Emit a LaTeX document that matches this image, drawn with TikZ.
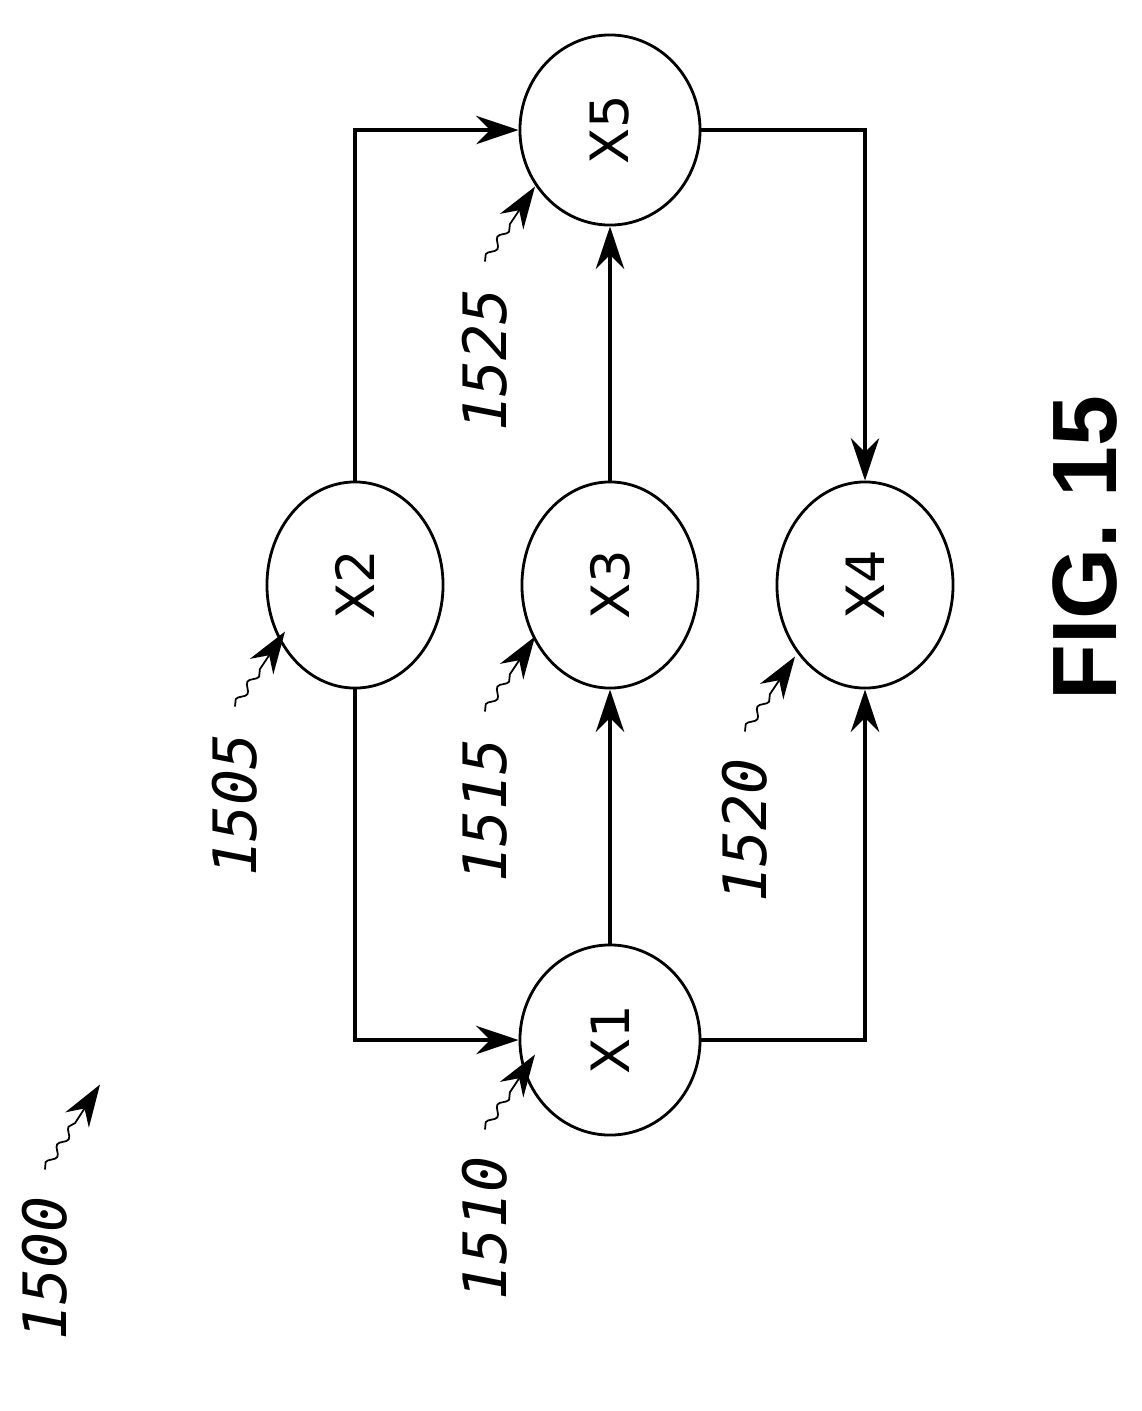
\documentclass[tikz,border=0pt]{standalone}
\usepackage{fontspec}
\setmainfont{DejaVu Sans}
\newfontfamily\monofont{DejaVu Sans Mono}
\newfontfamily\figfont{Liberation Sans}
\usetikzlibrary{arrows.meta,shapes.geometric,decorations.pathmorphing}
\begin{document}
\begin{tikzpicture}[x=0.01cm,y=-0.01cm,
  st/.style={draw,ellipse,line width=0.8pt,inner sep=0pt},
  nl/.style={rotate=90,font=\fontsize{15}{15}\selectfont},
  ref/.style={rotate=90,font=\monofont\itshape\fontsize{17}{17}\selectfont},
  e/.style={line width=1.3pt,-{Stealth[length=12pt,width=8pt]}},
  ld/.style={line width=0.5pt,-{Stealth[length=12pt,width=8pt]},
    decorate,decoration={snake,amplitude=1pt,segment length=6pt,post length=12pt}}]
\useasboundingbox (0,0) rectangle (1142,1411);
\node[st,minimum width=1.8cm,minimum height=1.9cm] (x5) at (610,130) {};
\node[st,minimum width=1.76cm,minimum height=2.06cm] (x2) at (355,585) {};
\node[st,minimum width=1.76cm,minimum height=2.06cm] (x3) at (610,585) {};
\node[st,minimum width=1.76cm,minimum height=2.06cm] (x4) at (865,585) {};
\node[st,minimum width=1.8cm,minimum height=1.9cm] (x1) at (610,1040) {};
\node[nl] at (x5) {X5};\node[nl] at (x2) {X2};\node[nl] at (x3) {X3};
\node[nl] at (x4) {X4};\node[nl] at (x1) {X1};
\draw[e] (x2.north) |- (x5.west);
\draw[e] (x5.east) -| (x4.north);
\draw[e] (x3.north) -- (x5.south);
\draw[e] (x2.south) |- (x1.west);
\draw[e] (x1.north) -- (x3.south);
\draw[e] (x1.east) -| (x4.south);
\node[ref] (l1525) at (485,360) {1525};
\node[ref] (l1505) at (235,805) {1505};
\node[ref] (l1515) at (485,810) {1515};
\node[ref] (l1520) at (745,830) {1520};
\node[ref] (l1510) at (485,1228) {1510};
\node[ref] (l1500) at (45,1268) {1500};
\node[rotate=90,font=\figfont\bfseries\fontsize{26}{26}\selectfont] (fig) at (1085,548) {FIG. 15};
\foreach \l in {l1525,l1505,l1515,l1520,l1510}{
  \draw[ld] ([yshift=4pt]\l.east) -- +(50,-75);
}
\draw[ld] ([yshift=4pt]l1500.east) -- +(55,-85);
\end{tikzpicture}
\end{document}
